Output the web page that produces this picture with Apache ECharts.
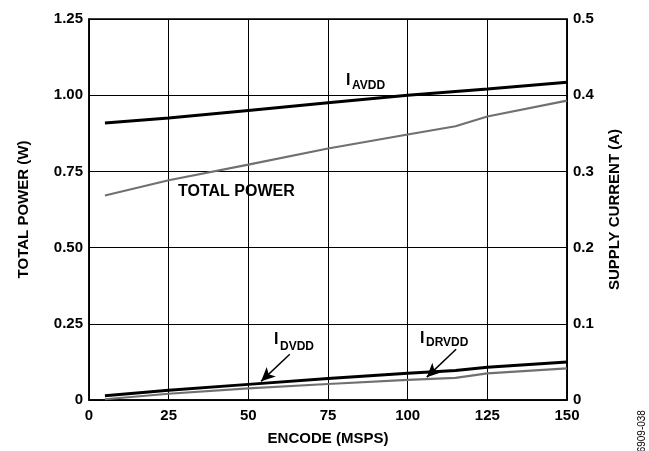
<!DOCTYPE html>
<html>
<head>
<meta charset="utf-8">
<script src="https://cdn.jsdelivr.net/npm/echarts@6/dist/echarts.min.js"></script>
<style>
  html, body { margin: 0; padding: 0; background: #fff; }
  #chart { width: 649px; height: 451px; }
</style>
</head>
<body>
<div id="chart"></div>
<script>
  // encode rate (MSPS)
  const encodeMsps = [5, 25, 50, 75, 100, 115, 125, 150]
  // total power (W), left axis
  const totalPower = [0.671, 0.721, 0.772, 0.825, 0.871, 0.898, 0.930, 0.982]
  // supply currents (A), right axis
  const iAvdd = [0.3635, 0.370, 0.380, 0.390, 0.400, 0.405, 0.408, 0.417]
  const iDvdd = [0.0056, 0.0127, 0.0205, 0.0283, 0.0352, 0.0388, 0.043, 0.050]
  const iDrvdd = [0.001, 0.0082, 0.0153, 0.021, 0.0265, 0.029, 0.035, 0.0414]

  const xTicks = [0, 25, 50, 75, 100, 125, 150]
  const powerTicks = [0, 0.25, 0.5, 0.75, 1.0, 1.25]
  const currentTicks = [0, 0.1, 0.2, 0.3, 0.4, 0.5]

  const pairs = ys => encodeMsps.map((x, i) => [x, ys[i]])

  const font = 'Liberation Sans, Arial, Helvetica, sans-serif'
  const labelStyle = { color: '#000', fontSize: 15, fontWeight: 'bold', fontFamily: font }
  const nameStyle = { color: '#000', fontSize: 15, fontWeight: 'bold', fontFamily: font }

  const arrowLine = (from, to) => ({
    silent: true,
    symbol: ['none', 'arrow'],
    symbolSize: [10, 14],
    lineStyle: { color: '#000', width: 1.5, type: 'solid' },
    itemStyle: { color: '#000' },
    label: { show: false },
    data: [[{ coord: from }, { coord: to }]]
  })

  const chart = echarts.init(document.getElementById('chart'))

  const option = {
    animation: false,
    backgroundColor: '#fff',
    grid: {
      left: 89, right: 82, top: 19, bottom: 50,
      show: true, borderColor: '#000', borderWidth: 1.5
    },
    xAxis: {
      type: 'value',
      min: xTicks[0], max: xTicks[xTicks.length - 1], interval: 25,
      name: 'ENCODE (MSPS)', nameLocation: 'middle', nameGap: 31,
      nameTextStyle: nameStyle,
      axisLine: { lineStyle: { color: '#000', width: 1.5 } },
      axisTick: { show: false },
      axisLabel: Object.assign({ margin: 8 }, labelStyle),
      splitLine: { lineStyle: { color: '#000', width: 1 } }
    },
    yAxis: [
      {
        type: 'value',
        min: powerTicks[0], max: powerTicks[powerTicks.length - 1], interval: 0.25,
        name: 'TOTAL POWER (W)', nameLocation: 'middle', nameGap: 58, nameRotate: 90,
        nameTextStyle: nameStyle,
        axisLine: { show: true, lineStyle: { color: '#000', width: 1.5 } },
        axisTick: { show: false },
        axisLabel: Object.assign({ margin: 6, formatter: v => v === 0 ? '0' : v.toFixed(2) }, labelStyle),
        splitLine: { lineStyle: { color: '#000', width: 1 } }
      },
      {
        type: 'value',
        min: currentTicks[0], max: currentTicks[currentTicks.length - 1], interval: 0.1,
        name: 'SUPPLY CURRENT (A)', nameLocation: 'middle', nameGap: 40, nameRotate: 90,
        nameTextStyle: nameStyle,
        axisLine: { show: true, lineStyle: { color: '#000', width: 1.5 } },
        axisTick: { show: false },
        axisLabel: Object.assign({ margin: 6, formatter: v => v === 0 ? '0' : v.toFixed(1) }, labelStyle),
        splitLine: { show: false }
      }
    ],
    series: [
      {
        name: 'TOTAL POWER', type: 'line', yAxisIndex: 0,
        data: pairs(totalPower), showSymbol: false,
        lineStyle: { color: '#707070', width: 2.2 }
      },
      {
        name: 'IAVDD', type: 'line', yAxisIndex: 1,
        data: pairs(iAvdd), showSymbol: false,
        lineStyle: { color: '#000', width: 3 }
      },
      {
        name: 'IDRVDD', type: 'line', yAxisIndex: 1,
        data: pairs(iDrvdd), showSymbol: false,
        lineStyle: { color: '#707070', width: 2.2 },
        markLine: arrowLine([115.2, 0.0666], [106, 0.030])
      },
      {
        name: 'IDVDD', type: 'line', yAxisIndex: 1,
        data: pairs(iDvdd), showSymbol: false,
        lineStyle: { color: '#000', width: 3 },
        markLine: arrowLine([63, 0.060], [54, 0.0245])
      }
    ],
    graphic: [
      { type: 'text', x: 346, y: 81, style: { text: 'I', fill: '#000', font: 'bold 16px ' + font, verticalAlign: 'middle' } },
      { type: 'text', x: 352, y: 86, style: { text: 'AVDD', fill: '#000', font: 'bold 12px ' + font, verticalAlign: 'middle' } },
      { type: 'text', x: 178, y: 192, style: { text: 'TOTAL POWER', fill: '#000', font: 'bold 16px ' + font, verticalAlign: 'middle' } },
      { type: 'text', x: 274, y: 340, style: { text: 'I', fill: '#000', font: 'bold 16px ' + font, verticalAlign: 'middle' } },
      { type: 'text', x: 280, y: 346.5, style: { text: 'DVDD', fill: '#000', font: 'bold 12px ' + font, verticalAlign: 'middle' } },
      { type: 'text', x: 420, y: 338.5, style: { text: 'I', fill: '#000', font: 'bold 16px ' + font, verticalAlign: 'middle' } },
      { type: 'text', x: 426, y: 342.5, style: { text: 'DRVDD', fill: '#000', font: 'bold 12px ' + font, verticalAlign: 'middle' } },
      {
        type: 'text', x: 642, y: 434, rotation: Math.PI / 2,
        style: { text: '06909-038', fill: '#000', font: '10px ' + font, align: 'center', verticalAlign: 'middle' }
      }
    ]
  }

  chart.setOption(option)
</script>
</body>
</html>
